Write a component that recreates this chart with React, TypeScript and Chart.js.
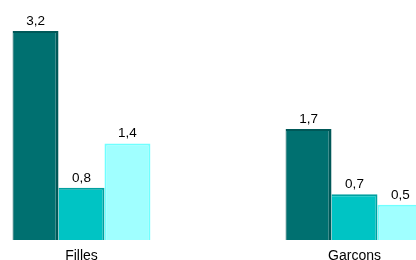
import React, { useEffect, useRef } from "react";
import { Chart, registerables } from "chart.js";

Chart.register(...registerables);

const categories = ["Filles", "Garcons"];
const series1 = [3.2, 1.7];
const series2 = [0.8, 0.7];
const series3 = [1.48, 0.54];
const labels1 = ["3,2", "1,7"];
const labels2 = ["0,8", "0,7"];
const labels3 = ["1,4", "0,5"];

const valueLabelPlugin = {
  id: "valueLabels",
  afterDatasetsDraw(chart: any) {
    const ctx = chart.ctx;
    const all = [labels1, labels2, labels3];
    ctx.save();
    ctx.font = "13.5px 'Liberation Sans', Arial, sans-serif";
    ctx.fillStyle = "#000000";
    ctx.textAlign = "center";
    ctx.textBaseline = "bottom";
    chart.data.datasets.forEach((ds: any, i: number) => {
      const meta = chart.getDatasetMeta(i);
      meta.data.forEach((bar: any, j: number) => {
        ctx.fillText(all[i][j], bar.x, bar.y - 3);
      });
    });
    ctx.restore();
  },
};

export default function App() {
  const ref = useRef<HTMLCanvasElement>(null);
  useEffect(() => {
    document.body.style.overflow = "hidden";
    const chart = new Chart(ref.current!, {
      type: "bar",
      data: {
        labels: categories,
        datasets: [
          {
            data: series1,
            backgroundColor: "#007070",
            borderColor: "#005858",
            borderWidth: { top: 2, right: 3, left: 1, bottom: 0 },
            borderSkipped: false,
          },
          {
            data: series2,
            backgroundColor: "#00C4C4",
            borderColor: "#00A0A0",
            borderWidth: { top: 2, right: 2, left: 0, bottom: 0 },
            borderSkipped: false,
          },
          {
            data: series3,
            backgroundColor: "#A0FFFF",
            borderColor: "#70FFFF",
            borderWidth: { top: 2, right: 2, left: 2, bottom: 0 },
            borderSkipped: false,
          },
        ],
      },
      options: {
        animation: false,
        responsive: false,
        maintainAspectRatio: false,
        layout: { padding: { top: 5, bottom: 0, left: 0, right: 0 } },
        plugins: { legend: { display: false }, tooltip: { enabled: false } },
        datasets: { bar: { categoryPercentage: 0.505, barPercentage: 1 } },
        scales: {
          x: {
            grid: { display: false, drawTicks: false },
            border: { display: false },
            afterFit: (scale: any) => {
              scale.height = 20;
            },
            ticks: {
              color: "#000000",
              padding: 8,
              font: { family: "'Liberation Sans', Arial, sans-serif", size: 14 },
            },
          },
          y: { display: false, min: 0, max: 3.6 },
        },
      },
      plugins: [valueLabelPlugin],
    });
    return () => chart.destroy();
  }, []);
  return (
    <div style={{ position: "fixed", left: -55, top: 0, width: 546, height: 260 }}>
      <canvas ref={ref} width={546} height={260} />
    </div>
  );
}
